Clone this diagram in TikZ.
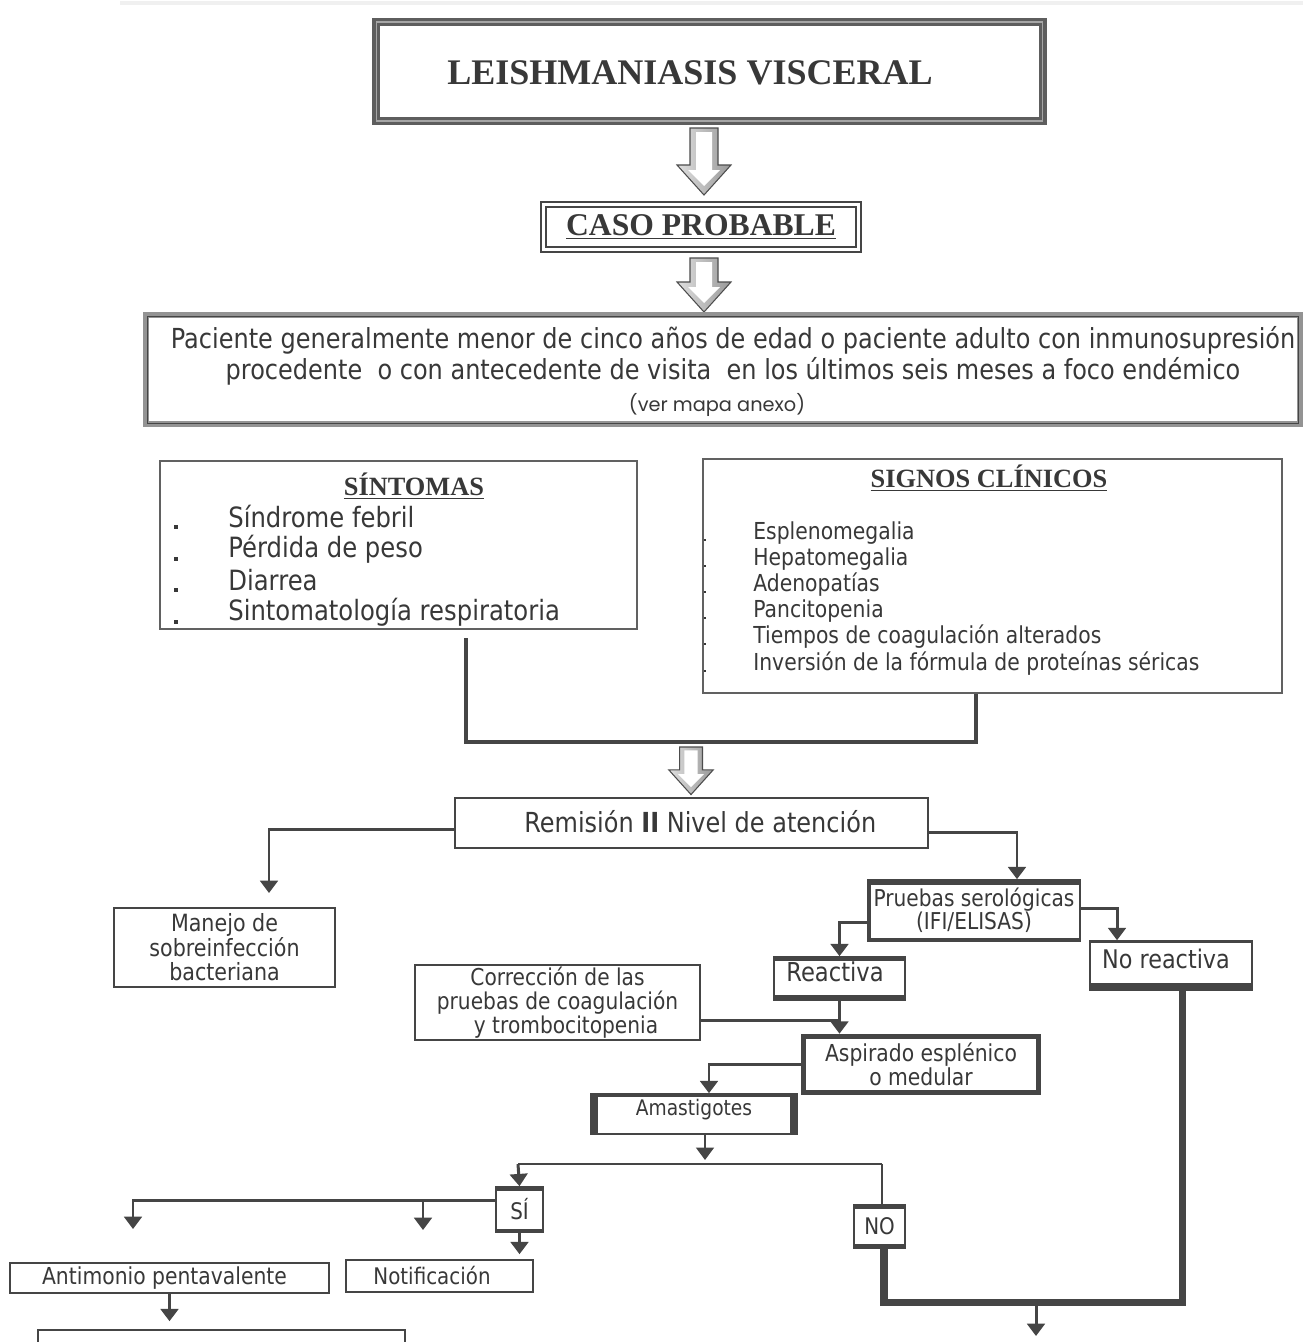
\documentclass[tikz,border=0pt]{standalone}
\usepackage{fontspec}
\newfontfamily\bodyfont[FakeStretch=0.87]{DejaVu Sans}
\newfontfamily\geofont{Poppins}
\newfontfamily\headfont{Liberation Serif}
\usetikzlibrary{arrows.meta}
\definecolor{dark}{HTML}{454545}
\definecolor{ink}{HTML}{383838}
\definecolor{frame}{HTML}{5E5E5E}

\begin{document}
\begin{tikzpicture}[x=0.02cm, y=-0.02cm,
  box/.style={draw=dark, line width=0.9pt, fill=white, inner sep=0pt, text=ink, align=center},
  headtext/.style={font=\headfont\bfseries\fontsize{15}{18}\selectfont, text=ink, inner sep=0pt},
  itemtext/.style={font=\bodyfont\fontsize{15.9}{18}\selectfont, text=ink, inner sep=0pt, anchor=west},
  signtext/.style={font=\bodyfont\fontsize{13.3}{15}\selectfont, text=ink, inner sep=0pt, anchor=west},
  link/.style={draw=dark, line width=1.7pt, -{Triangle[width=10pt,length=7pt]}},
  plain/.style={draw=dark, line width=1.7pt},
  heavy/.style={draw=dark, line width=4pt},
  pics/harrow/.style={code={
    \shadedraw[left color=gray!25, right color=gray!80, draw=gray!60!black, line width=0.6pt]
      (-14,0) -- (14,0) -- (14,#1-30) -- (27,#1-30) -- (0,#1) -- (-27,#1-30) -- (-14,#1-30) -- cycle;
    \fill[white] (-8,4) -- (8,4) -- (8,#1-25) -- (16,#1-25) -- (0,#1-9) -- (-16,#1-25) -- (-8,#1-25) -- cycle;
  }}]
\clip (0,0) rectangle (1303,1342);
\fill[white] (0,0) rectangle (1303,1342);
\draw[gray!12, line width=2.5pt] (120,3) -- (1303,3);

% title and probable case
\node[box, draw=frame, line width=2pt, double=frame!55, double distance=0.6pt, minimum width=13.34cm, minimum height=1.98cm] at (709.5,71.5) (title) {};
\node[headtext, font=\headfont\bfseries\fontsize{20.5}{24}\selectfont] at (690,73) (titletext) {LEISHMANIASIS VISCERAL};
\pic at (704,128) {harrow=67};
\node[box, line width=1.1pt, double=white, double distance=1.4pt, minimum width=6.3cm, minimum height=0.9cm, headtext, font=\headfont\bfseries\fontsize{18}{21}\selectfont] at (701,227) (caso) {\underline{CASO PROBABLE}};
\pic at (704,258) {harrow=54};

% patient
\node[box, draw=gray!85, line width=3.4pt, minimum width=23.08cm, minimum height=2.18cm] at (723,369.5) (pac) {};
\draw[dark, line width=0.5pt] ([shift={(4,4)}]pac.north west) rectangle ([shift={(-4,-4)}]pac.south east);
\node[itemtext, anchor=center, align=center, font=\bodyfont\fontsize{15.7}{18}\selectfont] at (733,356) (pactext) {Paciente generalmente menor de cinco años de edad o paciente adulto con inmunosupresión\\[-0.5pt]procedente\ \ o con antecedente de visita\ \ en los últimos seis meses a foco endémico};
\node[font=\geofont\fontsize{11}{13}\selectfont, text=ink, inner sep=0pt] at (717,405) (mapa) {(ver mapa anexo)};

% symptoms
\node[box, draw=dark!85, minimum width=9.54cm, minimum height=3.36cm] at (398.5,545) (sint) {};
\node[headtext] at (414,486) (sinttit) {\underline{SÍNTOMAS}};
\node[itemtext] at (228,517) (s1) {Síndrome febril};
\node[itemtext] at (228,549) (s2) {Pérdida de peso};
\node[itemtext] at (228,580) (s3) {Diarrea};
\node[itemtext] at (228,612) (s4) {Sintomatología respiratoria};
\fill[ink] (174,525) rectangle (178,529);
\fill[ink] (174,557) rectangle (178,561);
\fill[ink] (174,588) rectangle (178,592);
\fill[ink] (174,620) rectangle (178,624);

% clinical signs
\node[box, draw=dark!85, minimum width=11.58cm, minimum height=4.68cm] at (992.5,576) (sig) {};
\node[headtext] at (989,478) (sigtit) {\underline{SIGNOS CLÍNICOS}};
\node[signtext] at (753,533) (g1) {Esplenomegalia};
\node[signtext] at (753,559) (g2) {Hepatomegalia};
\node[signtext] at (753,585) (g3) {Adenopatías};
\node[signtext] at (753,611) (g4) {Pancitopenia};
\node[signtext] at (753,637) (g5) {Tiempos de coagulación alterados};
\node[signtext] at (753,664) (g6) {Inversión de la fórmula de proteínas séricas};
\fill[ink] (704,539) rectangle (706,541);
\fill[ink] (704,565) rectangle (706,567);
\fill[ink] (704,591) rectangle (706,593);
\fill[ink] (704,617) rectangle (706,619);
\fill[ink] (704,643) rectangle (706,645);
\fill[ink] (704,670) rectangle (706,672);

\coordinate (jt) at (466,638);
\coordinate (jr) at (976,742);
\draw[dark, line width=2.8pt] (jt) |- (jr) -- (sig.south -| jr);
\pic[scale=0.82] at (691,747) {harrow=58};

% referral
\node[box, itemtext, anchor=center, font=\bodyfont\fontsize{15.7}{18}\selectfont, minimum width=9.46cm, minimum height=1.0cm] at (691.5,823) (rem) {\raisebox{2.2pt}{\hspace*{0.35cm}Remisión \textbf{II} Nivel de atención}};
\coordinate (lm) at (269,893);
\draw[link] ([yshift=-0.12cm]rem.west) -| (lm);
\node[box, font=\bodyfont\fontsize{13.5}{13.9}\selectfont, minimum width=4.42cm, minimum height=1.58cm] at (224.5,947.5) (man) {Manejo de\\sobreinfección\\bacteriana};

% serology
\node[box, font=\bodyfont\fontsize{13.2}{13.3}\selectfont, minimum width=4.24cm, minimum height=1.22cm] at (974,910.5) (pru) {Pruebas serológicas\\(IFI/ELISAS)};
\fill[dark] (pru.north west) rectangle ([yshift=-0.12cm]pru.north east);
\fill[dark] (pru.south west) rectangle ([yshift=0.08cm]pru.south east);
\fill[dark] (pru.north west) rectangle ([xshift=0.08cm]pru.south west);
\draw[link] ([yshift=-0.18cm]rem.east) -| ([xshift=0.86cm]pru.north);

\node[box, font=\bodyfont\fontsize{14.6}{16}\selectfont, minimum width=3.24cm, minimum height=0.98cm] at (1171,965.5) (nor) {No reactiva\hspace*{0.2cm}\\[-8pt]\mbox{}};
\fill[dark] (nor.north west) rectangle ([yshift=-0.06cm]nor.north east);
\fill[dark] (nor.south west) rectangle ([yshift=0.16cm]nor.south east);
\draw[link] ([yshift=0.05cm]pru.east) -| ([xshift=-1.08cm]nor.north);

\node[box, font=\bodyfont\fontsize{14.8}{16}\selectfont, minimum width=2.62cm, minimum height=0.86cm] at (839.5,978.5) (rea) {Reactiva\hspace*{0.18cm}\\[-8pt]\mbox{}};
\fill[dark] (rea.north west) rectangle ([yshift=-0.1cm]rea.north east);
\fill[dark] (rea.south west) rectangle ([yshift=0.12cm]rea.south east);
\draw[link] ([yshift=-0.23cm]pru.west) -| (rea.north);

\node[box, font=\bodyfont\fontsize{13.2}{13.7}\selectfont, minimum width=5.7cm, minimum height=1.5cm] at (557.5,1002.5) (cor) {Corrección de las\\pruebas de coagulación\hspace*{0.36cm}\\\hspace*{0.34cm}y trombocitopenia};

% aspirate
\node[box, line width=3.2pt, font=\bodyfont\fontsize{13.3}{14}\selectfont, minimum width=4.7cm, minimum height=1.12cm] at (921,1064.5) (asp) {Aspirado esplénico\\o medular};
\draw[link] (rea.south) -- (rea.south |- asp.north);
\draw[plain] ([yshift=-0.35cm]cor.east) -- ([yshift=-0.35cm]cor.east -| rea.south);

\node[box, font=\bodyfont\fontsize{12.2}{14}\selectfont, minimum width=4.12cm, minimum height=0.8cm] at (694,1114) (ama) {Amastigotes\\[-6pt]\mbox{}};
\fill[dark] (ama.north west) rectangle ([xshift=0.16cm]ama.south west);
\fill[dark] (ama.north east) rectangle ([xshift=-0.16cm]ama.south east);
\fill[dark] (ama.north west) rectangle ([yshift=-0.08cm]ama.north east);
\draw[link] (asp.west) -| ([xshift=0.3cm]ama.north);

% result
\coordinate (am) at (705,1160);
\coordinate (sl) at (518,1164);
\coordinate (sr) at (882,1164);
\draw[link, line width=1.3pt] (ama.south -| am) -- (am);
\draw[dark, line width=1.3pt] (sl) -- (sr);

\node[box, font=\bodyfont\fontsize{13}{15}\selectfont, minimum width=0.94cm, minimum height=0.9cm] at (519.5,1209.5) (si) {SÍ};
\fill[dark] (si.north west) rectangle ([yshift=-0.1cm]si.north east);
\fill[dark] (si.south west) rectangle ([yshift=0.08cm]si.south east);
\draw[link] (sl) -- (si.north);

\node[box, font=\bodyfont\fontsize{13}{15}\selectfont, minimum width=1.02cm, minimum height=0.86cm] at (879.5,1226.5) (no) {NO};
\fill[dark] (no.north west) rectangle ([yshift=-0.1cm]no.north east);
\fill[dark] (no.south west) rectangle ([yshift=0.1cm]no.south east);
\draw[dark, line width=1.3pt] (sr) -- (sr |- no.north);

\node[box, font=\bodyfont\fontsize{13.3}{15}\selectfont, minimum width=6.38cm, minimum height=0.6cm] at (169.5,1278) (ant) {Antimonio pentavalente\hspace*{0.2cm}};
\node[box, font=\bodyfont\fontsize{13}{15}\selectfont, minimum width=3.74cm, minimum height=0.64cm] at (439.5,1276) (noti) {Notificación\hspace*{0.3cm}};
\node[box, minimum width=7.34cm, minimum height=1.0cm] at (221.5,1355) (bot) {};

\coordinate (la) at (133,1229);
\coordinate (hb) at (423,1200);
\coordinate (lb) at (423,1230);
\draw[link] ([yshift=0.19cm]si.west) -| (la);
\draw[link] (hb) -- (lb);
\draw[link] (si.south) -- ([yshift=0.1cm]si.south |- noti.north);
\draw[link, line width=2.2pt] (ant.south) -- ([yshift=0.16cm]ant.south |- bot.north);

% negative branch
\coordinate (nr) at (1182,1302);
\coordinate (mg) at (1036,1305);
\coordinate (fin) at (1036,1336);
\draw[heavy] ([xshift=0.09cm]no.south) |- (nr) -- (nor.south -| nr);
\draw[link] (mg) -- (fin);
\end{tikzpicture}
\end{document}
